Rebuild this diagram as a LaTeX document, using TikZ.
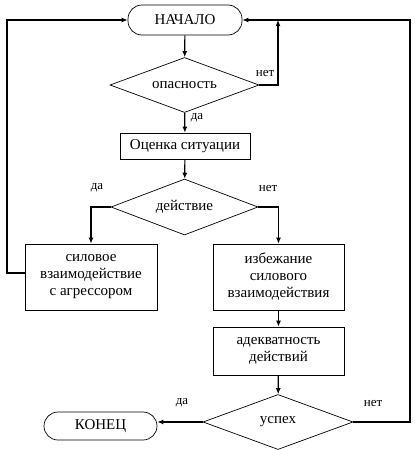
\documentclass[tikz,border=0pt]{standalone}
\usepackage{fontspec}
\setmainfont{Liberation Serif}
\usetikzlibrary{shapes.geometric,arrows.meta}
\begin{document}
\begin{tikzpicture}[x=1pt,y=-1pt,
  every node/.style={font=\fontsize{15}{17}\selectfont},
  term/.style={draw, line width=0.7pt, rounded corners=14pt, minimum width=114pt, minimum height=30pt, inner sep=0pt},
  proc/.style={draw, line width=0.7pt, align=center, inner sep=0pt},
  dec/.style={draw, line width=0.7pt, diamond, aspect=2.7, inner sep=0pt},
  conn/.style={line width=1.2pt, -{Latex[length=6pt,width=5pt]}},
  lbl/.style={font=\fontsize{13}{15}\selectfont, inner sep=0pt}]
\useasboundingbox (0,0) rectangle (416,450);

\node[term] (nach) at (185,20) {НАЧАЛО};
\node[dec, minimum width=149pt, minimum height=55pt] (opas) at (184.5,85) {опасность};
\node[proc, minimum width=130pt, minimum height=26pt] (ocen) at (185,146) {Оценка ситуации};
\node[dec, minimum width=147pt, minimum height=56pt] (deist) at (184.5,207) {действие};
\node[proc, minimum width=132pt, minimum height=66pt] (sil) at (91,277) {силовое\\взаимодействие\\с агрессором};
\node[proc, minimum width=131pt, minimum height=66pt] (izb) at (278.5,277) {избежание\\силового\\взаимодействия};
\node[proc, minimum width=131pt, minimum height=48pt] (adek) at (278.5,351) {адекватность\\действий};
\node[dec, minimum width=150pt, minimum height=55pt] (usp) at (278,422) {успех};
\node[term, minimum width=113pt, minimum height=28pt] (kon) at (100.5,426) {КОНЕЦ};

\coordinate (nr) at (278,20);
\coordinate (rtop) at (410,20);
\coordinate (ltop) at (7,20);

\draw[conn] (nach) -- (opas);
\draw[conn] (opas.east) -| (nr);
\draw[conn] (opas) -- (ocen);
\draw[conn] (ocen) -- (deist);
\draw[conn] (deist.west) -| (sil.north);
\draw[conn] (deist.east) -| (izb.north);
\draw[conn] (izb) -- (adek);
\draw[conn] (adek) -- (usp);
\draw[conn] (usp.west) -- (usp.west -| kon.east);
\draw[conn] (usp.east) -| (rtop) -- (nach.east);
\draw[conn] ([yshift=4pt]sil.west) -| (ltop) -- (nach.west);

\node[lbl] (l1) at (265,73) {нет};
\node[lbl] (l2) at (197,118) {да};
\node[lbl] (l3) at (97,188) {да};
\node[lbl] (l4) at (268,188) {нет};
\node[lbl] (l5) at (182,403) {да};
\node[lbl] (l6) at (373,403) {нет};
\end{tikzpicture}
\end{document}
